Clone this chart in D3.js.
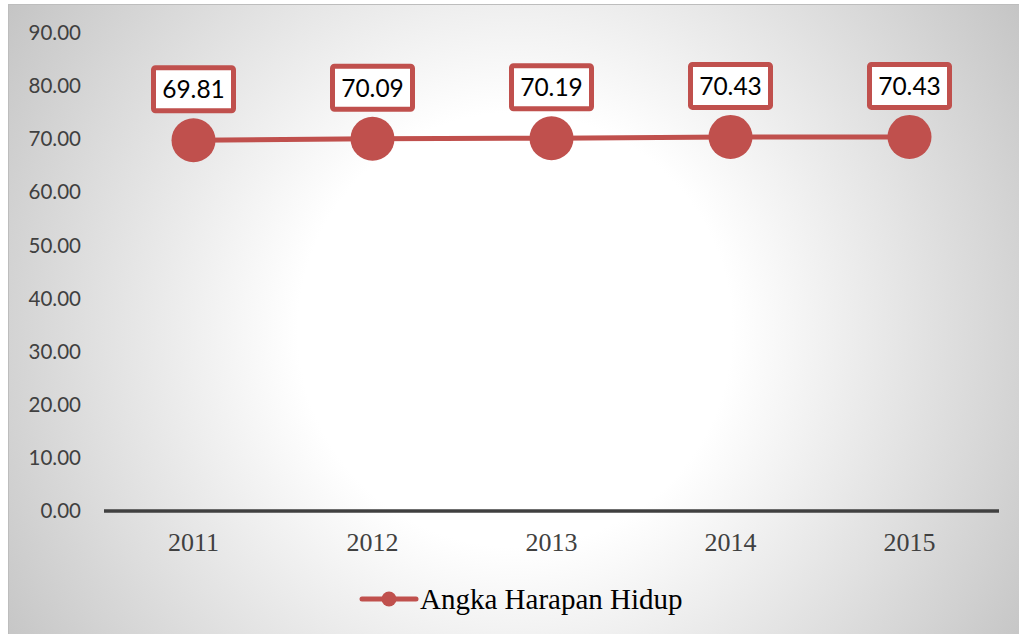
<!DOCTYPE html>
<html><head><meta charset="utf-8">
<script src="https://cdn.jsdelivr.net/npm/d3@7"></script>
<style>html,body{margin:0;padding:0;background:#fff;}svg{display:block;}</style>
</head><body>
<svg id="c" width="1019" height="634"></svg>
<script>
const categories = ["2011","2012","2013","2014","2015"];
const values = [69.81, 70.09, 70.19, 70.43, 70.43];
const valueLabels = ["69.81","70.09","70.19","70.43","70.43"];
const yTicks = [0,10,20,30,40,50,60,70,80,90];
const seriesName = "Angka Harapan Hidup";

const svg = d3.select("#c");
const W = 1019, H = 634;
const color = "#c0504d";

const defs = svg.append("defs");
const rg = defs.append("radialGradient").attr("id","bg").attr("gradientUnits","userSpaceOnUse")
  .attr("cx",515).attr("cy",330).attr("r",620);
rg.append("stop").attr("offset","0").attr("stop-color","#ffffff");
rg.append("stop").attr("offset","0.35").attr("stop-color","#ffffff");
rg.append("stop").attr("offset","1").attr("stop-color","#c2c2c2");

svg.append("rect").attr("x",8).attr("y",4).attr("width",W-8).attr("height",H-4).attr("fill","url(#bg)");
svg.append("rect").attr("x",8.5).attr("y",4.5).attr("width",W).attr("height",H).attr("fill","none").attr("stroke","#bdbdbd").attr("stroke-width",1);

const x = d3.scaleBand().domain(categories).range([104, 999]);
const y = d3.scaleLinear().domain([0, 90]).range([511, 33]);

// y axis labels
const yAxis = d3.axisLeft(y).tickValues(yTicks).tickFormat(d3.format(".2f")).tickSize(0).tickPadding(0);
const gy = svg.append("g").attr("transform","translate(81,0)").call(yAxis);
gy.select(".domain").remove();
gy.selectAll("text").attr("font-family","Lato, sans-serif").attr("font-size","20.5px").attr("fill","#404040");

// x axis
const xAxis = d3.axisBottom(x).tickSize(0).tickPadding(0);
const gx = svg.append("g").attr("transform","translate(0,511)").call(xAxis);
gx.select(".domain").attr("stroke","#404040").attr("stroke-width",3.5).attr("d","M104,0H999");
gx.selectAll("text").attr("font-family","'Liberation Serif', 'Times New Roman', serif").attr("font-size","26px").attr("fill","#404040").attr("dy","1.55em");

const cx = d => x(d) + x.bandwidth()/2;

// line
const line = d3.line().x((d,i)=>cx(categories[i])).y(d=>y(d));
svg.append("path").datum(values).attr("d",line).attr("fill","none").attr("stroke",color).attr("stroke-width",5).attr("stroke-linecap","round");

svg.selectAll("circle.pt").data(values).enter().append("circle").attr("class","pt")
  .attr("cx",(d,i)=>cx(categories[i])).attr("cy",d=>y(d)).attr("r",22).attr("fill",color);

// labels
const lab = svg.selectAll("g.lab").data(values).enter().append("g").attr("class","lab")
  .attr("transform",(d,i)=>`translate(${cx(categories[i])},${y(d)-51})`);
lab.append("rect").attr("x",-40).attr("y",-21.5).attr("width",80).attr("height",43).attr("rx",2)
  .attr("fill","#fff").attr("stroke",color).attr("stroke-width",5);
lab.append("text").text((d,i)=>valueLabels[i]).attr("text-anchor","middle").attr("dy","0.36em")
  .attr("font-family","Lato, sans-serif").attr("font-size","24.5px").attr("fill","#000");

// legend
const lg = svg.append("g").attr("transform","translate(0,599)");
lg.append("line").attr("x1",362).attr("x2",416).attr("y1",0).attr("y2",0).attr("stroke",color).attr("stroke-width",5).attr("stroke-linecap","round");
lg.append("circle").attr("cx",389).attr("cy",0).attr("r",7.5).attr("fill",color);
lg.append("text").text(seriesName).attr("x",420).attr("dy","0.33em")
  .attr("font-family","'Liberation Serif', 'Times New Roman', serif").attr("font-size","29px").attr("fill","#000");
</script>
</body></html>
